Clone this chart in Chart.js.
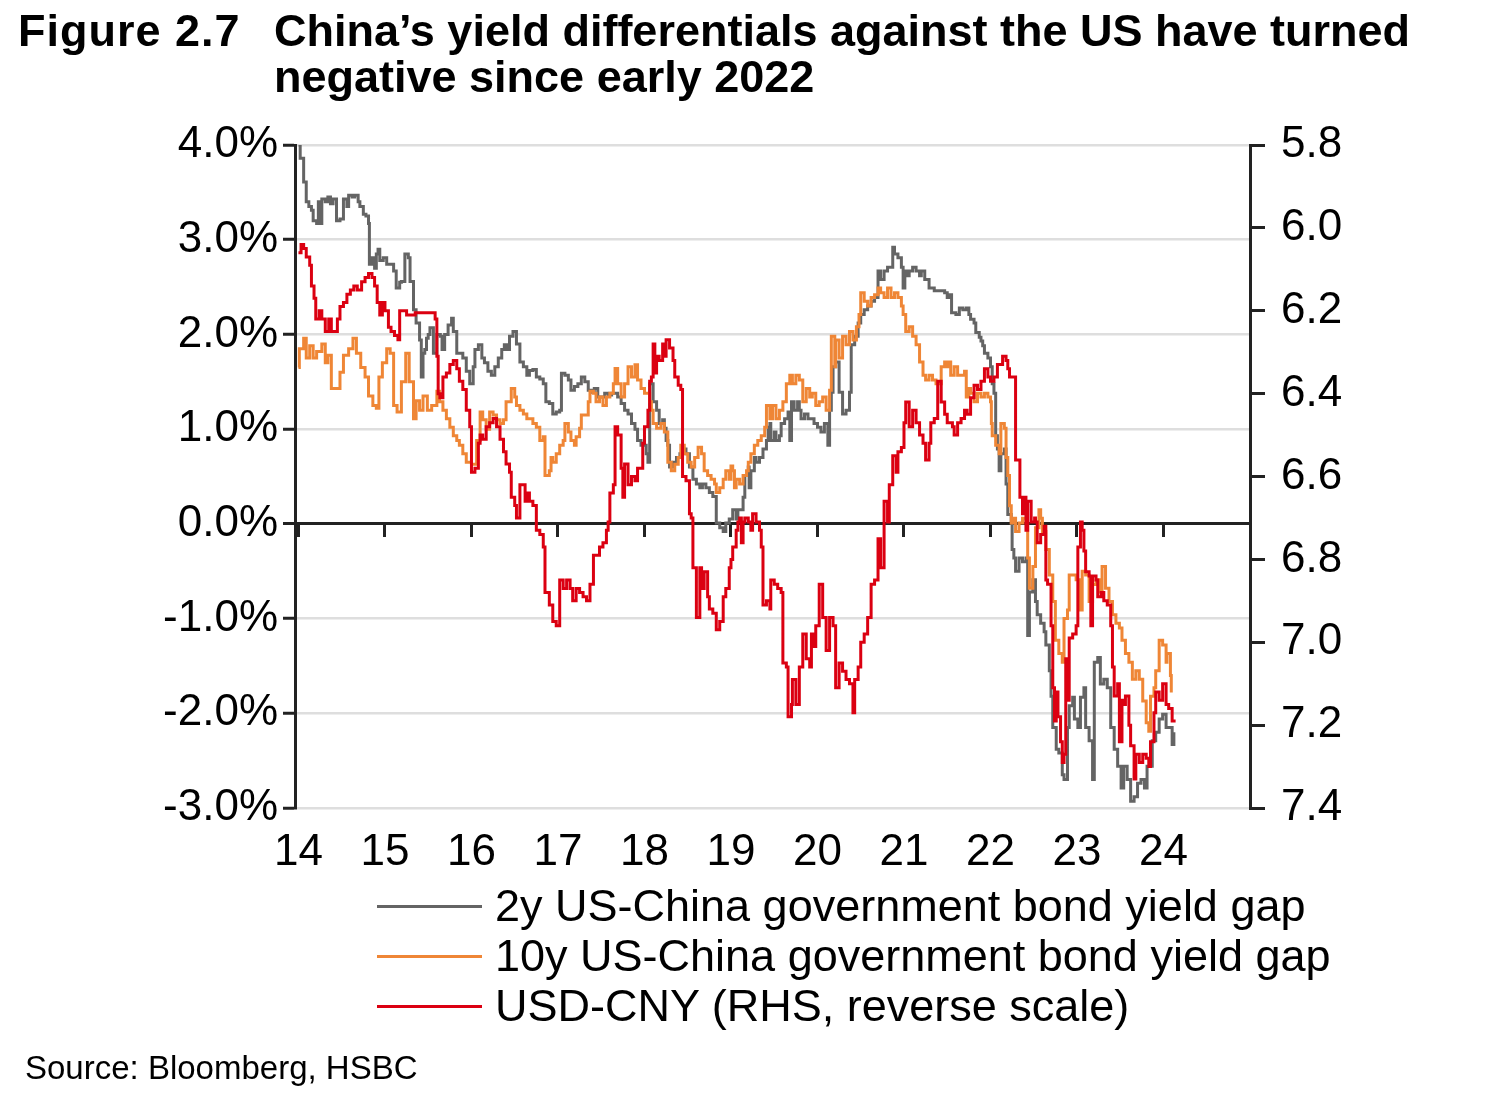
<!DOCTYPE html>
<html>
<head>
<meta charset="utf-8">
<script src="https://cdn.jsdelivr.net/npm/chart.js@4.4.1/dist/chart.umd.min.js"></script>
<style>
  html, body { margin: 0; padding: 0; background: #fff; }
  #wrap { position: relative; width: 1500px; height: 1104px; overflow: hidden; font-family: "Liberation Sans", Arial, Helvetica, sans-serif; color: #000; }
  #c { position: absolute; left: 0; top: 0; }
  .title { position: absolute; font-weight: bold; font-size: 45px; line-height: 46px; white-space: nowrap; }
  #legend { position: absolute; left: 377px; top: 881px; }
  .lrow { display: flex; align-items: center; height: 50px; }
  .lline { width: 105px; height: 3px; margin-right: 13px; }
  .ltext { font-size: 45px; line-height: 50px; white-space: nowrap; }
  #source { position: absolute; left: 25px; top: 1052px; font-size: 33px; line-height: 32px; white-space: nowrap; }
</style>
</head>
<body>
<div id="wrap">
  <canvas id="c" width="1500" height="1104"></canvas>
  <div class="title" style="left:18px; top:8px; letter-spacing:1px;">Figure 2.7</div>
  <div class="title" style="left:274px; top:8px;">China’s yield differentials against the US have turned<br>negative since early 2022</div>
  <div id="legend"></div>
  <div id="source">Source: Bloomberg, HSBC</div>
</div>
<script>
// ---------- DATA (year as decimal, value) ----------
const YEAR_TICKS = [2014, 2015, 2016, 2017, 2018, 2019, 2020, 2021, 2022, 2023, 2024];
const LEFT_TICKS = [-3, -2, -1, 0, 1, 2, 3, 4];
const RIGHT_TICKS = [5.8, 6.0, 6.2, 6.4, 6.6, 6.8, 7.0, 7.2, 7.4];
const SERIES_LABELS = [
  "2y US-China government bond yield gap",
  "10y US-China government bond yield gap",
  "USD-CNY (RHS, reverse scale)"
];
const SERIES_COLORS = ["#646464", "#EF8636", "#DB0011"];

// 2y US-China government bond yield gap (%)
const GAP_2Y = [
[2014.00,4.00],[2014.02,3.86],[2014.06,3.61],[2014.09,3.40],[2014.12,3.35],[2014.15,3.31],[2014.17,3.20],[2014.21,3.17],
[2014.23,3.40],[2014.25,3.17],[2014.27,3.43],[2014.31,3.40],[2014.34,3.45],[2014.37,3.38],[2014.40,3.43],[2014.44,3.20],
[2014.48,3.22],[2014.52,3.43],[2014.56,3.35],[2014.58,3.47],[2014.62,3.45],[2014.65,3.47],[2014.69,3.40],[2014.71,3.35],
[2014.75,3.27],[2014.78,3.25],[2014.81,3.17],[2014.82,2.74],[2014.85,2.81],[2014.88,2.70],[2014.90,2.85],[2014.92,2.90],
[2014.94,2.78],[2014.98,2.81],[2015.02,2.74],[2015.06,2.74],[2015.10,2.67],[2015.13,2.49],[2015.17,2.55],[2015.19,2.56],
[2015.23,2.85],[2015.27,2.81],[2015.29,2.56],[2015.33,2.26],[2015.36,2.12],[2015.40,1.94],[2015.42,1.55],[2015.44,1.80],
[2015.46,1.84],[2015.48,1.96],[2015.50,2.00],[2015.52,2.07],[2015.56,1.80],[2015.60,2.00],[2015.64,1.98],[2015.66,1.84],
[2015.69,2.00],[2015.73,2.10],[2015.77,2.17],[2015.79,2.03],[2015.83,1.80],[2015.87,1.80],[2015.90,1.75],[2015.94,1.61],
[2015.98,1.48],[2016.02,1.66],[2016.04,1.84],[2016.08,1.89],[2016.10,1.89],[2016.12,1.75],[2016.15,1.70],[2016.19,1.61],
[2016.23,1.57],[2016.27,1.66],[2016.31,1.75],[2016.35,1.84],[2016.38,1.89],[2016.41,1.84],[2016.44,1.98],[2016.48,2.03],
[2016.52,1.90],[2016.56,1.71],[2016.60,1.66],[2016.64,1.57],[2016.67,1.62],[2016.71,1.63],[2016.75,1.55],[2016.79,1.53],
[2016.83,1.48],[2016.86,1.29],[2016.90,1.27],[2016.94,1.16],[2016.98,1.18],[2017.02,1.20],[2017.04,1.59],[2017.08,1.57],
[2017.12,1.52],[2017.15,1.41],[2017.19,1.45],[2017.23,1.48],[2017.27,1.55],[2017.31,1.50],[2017.35,1.41],[2017.39,1.39],
[2017.42,1.43],[2017.46,1.34],[2017.50,1.34],[2017.54,1.38],[2017.58,1.36],[2017.62,1.38],[2017.66,1.38],[2017.69,1.34],
[2017.73,1.27],[2017.77,1.20],[2017.81,1.16],[2017.85,1.06],[2017.89,1.00],[2017.92,0.88],[2017.96,0.83],[2018.00,0.83],
[2018.02,0.74],[2018.04,0.65],[2018.06,1.48],[2018.10,1.29],[2018.14,1.20],[2018.17,1.06],[2018.21,1.10],[2018.23,1.01],
[2018.25,0.88],[2018.27,0.83],[2018.29,0.60],[2018.33,0.65],[2018.37,0.70],[2018.41,0.74],[2018.44,0.79],[2018.48,0.74],
[2018.52,0.60],[2018.56,0.47],[2018.60,0.42],[2018.64,0.38],[2018.67,0.42],[2018.71,0.38],[2018.75,0.33],[2018.79,0.29],
[2018.83,0.01],[2018.87,-0.04],[2018.91,-0.08],[2018.94,0.01],[2018.98,0.05],[2019.02,0.15],[2019.06,0.05],[2019.08,0.15],
[2019.12,0.15],[2019.14,0.28],[2019.16,0.51],[2019.20,0.60],[2019.21,0.38],[2019.23,0.56],[2019.27,0.70],[2019.29,0.65],
[2019.33,0.70],[2019.37,0.79],[2019.41,0.88],[2019.43,1.02],[2019.45,1.06],[2019.46,0.88],[2019.50,0.97],[2019.52,0.88],
[2019.56,0.93],[2019.58,1.06],[2019.62,1.11],[2019.66,1.18],[2019.68,0.88],[2019.70,1.29],[2019.73,1.20],[2019.77,1.29],
[2019.79,1.20],[2019.81,1.11],[2019.85,1.16],[2019.89,1.11],[2019.93,1.11],[2019.96,1.06],[2020.00,1.02],[2020.04,0.97],
[2020.08,1.06],[2020.12,0.83],[2020.14,1.20],[2020.16,1.39],[2020.18,1.66],[2020.21,1.71],[2020.25,1.39],[2020.29,1.16],
[2020.33,1.20],[2020.37,1.39],[2020.39,1.89],[2020.43,1.98],[2020.47,2.12],[2020.50,2.21],[2020.54,2.26],[2020.58,2.30],
[2020.62,2.35],[2020.66,2.39],[2020.70,2.67],[2020.73,2.58],[2020.77,2.67],[2020.81,2.71],[2020.85,2.71],[2020.87,2.92],
[2020.89,2.85],[2020.93,2.81],[2020.97,2.71],[2020.99,2.49],[2021.01,2.67],[2021.04,2.62],[2021.06,2.67],[2021.10,2.71],
[2021.14,2.67],[2021.18,2.62],[2021.20,2.67],[2021.24,2.58],[2021.29,2.49],[2021.35,2.46],[2021.41,2.46],[2021.47,2.44],
[2021.50,2.39],[2021.52,2.42],[2021.55,2.23],[2021.60,2.21],[2021.64,2.28],[2021.68,2.26],[2021.72,2.28],[2021.75,2.21],
[2021.77,2.16],[2021.81,2.12],[2021.83,2.02],[2021.87,1.97],[2021.89,1.93],[2021.91,1.88],[2021.93,1.80],[2021.97,1.75],
[2022.00,1.66],[2022.02,1.48],[2022.04,1.38],[2022.06,0.93],[2022.08,0.79],[2022.10,0.56],[2022.12,0.74],[2022.16,0.79],
[2022.18,0.42],[2022.20,0.10],[2022.24,0.01],[2022.25,-0.27],[2022.27,-0.36],[2022.29,-0.50],[2022.33,-0.36],[2022.37,-0.40],
[2022.41,-0.36],[2022.43,-1.18],[2022.45,-0.72],[2022.49,-0.59],[2022.52,-0.82],[2022.54,-0.96],[2022.58,-1.05],[2022.62,-1.14],
[2022.64,-1.28],[2022.68,-1.55],[2022.70,-1.82],[2022.72,-2.15],[2022.76,-2.38],[2022.79,-2.42],[2022.83,-2.65],[2022.85,-2.70],
[2022.89,-2.15],[2022.91,-1.92],[2022.95,-1.83],[2022.97,-2.06],[2023.01,-2.15],[2023.04,-1.83],[2023.08,-1.73],[2023.10,-2.15],
[2023.14,-2.29],[2023.18,-2.70],[2023.20,-1.46],[2023.24,-1.41],[2023.27,-1.69],[2023.31,-1.64],[2023.35,-1.73],[2023.39,-2.15],
[2023.43,-2.38],[2023.47,-2.56],[2023.51,-2.79],[2023.54,-2.56],[2023.58,-2.70],[2023.62,-2.93],[2023.66,-2.88],[2023.70,-2.74],
[2023.74,-2.70],[2023.78,-2.79],[2023.81,-2.56],[2023.85,-2.56],[2023.87,-2.29],[2023.91,-2.20],[2023.95,-2.06],[2023.99,-2.01],
[2024.03,-2.15],[2024.06,-2.15],[2024.10,-2.33],[2024.12,-2.20]
];

// 10y US-China government bond yield gap (%)
const GAP_10Y = [
[2014.00,1.65],[2014.01,1.85],[2014.06,1.96],[2014.09,1.75],[2014.13,1.88],[2014.17,1.75],[2014.21,1.82],[2014.27,1.90],
[2014.31,1.70],[2014.34,1.78],[2014.38,1.43],[2014.44,1.43],[2014.48,1.60],[2014.52,1.78],[2014.58,1.85],[2014.63,1.96],
[2014.67,1.80],[2014.72,1.65],[2014.77,1.55],[2014.81,1.35],[2014.86,1.25],[2014.90,1.22],[2014.93,1.55],[2014.97,1.70],
[2015.02,1.85],[2015.06,1.80],[2015.10,1.25],[2015.14,1.18],[2015.19,1.50],[2015.24,1.80],[2015.28,1.50],[2015.33,1.11],
[2015.36,1.30],[2015.40,1.20],[2015.44,1.35],[2015.49,1.20],[2015.54,1.25],[2015.60,1.40],[2015.63,1.29],[2015.67,1.20],
[2015.71,1.11],[2015.75,1.02],[2015.79,0.93],[2015.83,0.88],[2015.86,0.83],[2015.90,0.74],[2015.94,0.65],[2016.00,0.63],
[2016.06,0.88],[2016.10,1.18],[2016.13,1.10],[2016.17,1.00],[2016.21,1.18],[2016.25,1.15],[2016.29,1.10],[2016.33,1.06],
[2016.37,1.10],[2016.40,1.29],[2016.46,1.43],[2016.50,1.34],[2016.52,1.25],[2016.56,1.20],[2016.60,1.16],[2016.64,1.11],
[2016.67,1.11],[2016.71,1.06],[2016.75,1.02],[2016.79,0.88],[2016.83,0.92],[2016.85,0.51],[2016.90,0.56],[2016.92,0.70],
[2016.94,0.65],[2016.98,0.74],[2017.02,0.83],[2017.06,0.88],[2017.08,1.06],[2017.12,0.97],[2017.15,0.88],[2017.19,0.83],
[2017.21,0.92],[2017.25,1.01],[2017.27,1.15],[2017.31,1.15],[2017.35,1.29],[2017.37,1.40],[2017.41,1.38],[2017.44,1.29],
[2017.48,1.34],[2017.52,1.25],[2017.56,1.34],[2017.60,1.38],[2017.64,1.48],[2017.66,1.64],[2017.69,1.48],[2017.73,1.34],
[2017.77,1.48],[2017.81,1.66],[2017.85,1.55],[2017.89,1.68],[2017.92,1.52],[2017.96,1.43],[2018.00,1.38],[2018.04,1.38],
[2018.06,1.29],[2018.08,1.20],[2018.10,1.06],[2018.14,1.01],[2018.19,1.06],[2018.23,0.97],[2018.27,0.65],[2018.31,0.56],
[2018.35,0.63],[2018.39,0.70],[2018.42,0.83],[2018.46,0.74],[2018.50,0.65],[2018.54,0.60],[2018.58,0.70],[2018.62,0.81],
[2018.66,0.74],[2018.69,0.56],[2018.73,0.51],[2018.77,0.47],[2018.81,0.42],[2018.83,0.33],[2018.87,0.38],[2018.91,0.47],
[2018.94,0.56],[2018.98,0.47],[2019.00,0.61],[2019.02,0.56],[2019.04,0.38],[2019.06,0.47],[2019.10,0.42],[2019.14,0.51],
[2019.18,0.56],[2019.20,0.65],[2019.23,0.74],[2019.27,0.83],[2019.31,0.88],[2019.35,0.93],[2019.39,1.02],[2019.41,1.25],
[2019.45,1.11],[2019.48,1.25],[2019.52,1.11],[2019.56,1.20],[2019.60,1.29],[2019.64,1.48],[2019.68,1.57],[2019.71,1.48],
[2019.75,1.57],[2019.79,1.52],[2019.83,1.29],[2019.87,1.43],[2019.91,1.34],[2019.94,1.38],[2019.98,1.25],[2020.02,1.29],
[2020.06,1.34],[2020.10,1.20],[2020.14,1.41],[2020.16,1.98],[2020.20,1.66],[2020.21,1.94],[2020.25,1.75],[2020.29,1.98],
[2020.33,1.89],[2020.37,2.03],[2020.41,1.94],[2020.45,2.08],[2020.48,2.21],[2020.50,2.44],[2020.54,2.35],[2020.58,2.30],
[2020.62,2.39],[2020.66,2.42],[2020.70,2.49],[2020.73,2.44],[2020.77,2.39],[2020.81,2.49],[2020.85,2.39],[2020.89,2.44],
[2020.93,2.39],[2020.97,2.30],[2020.99,2.21],[2021.02,2.03],[2021.06,2.08],[2021.10,1.98],[2021.14,1.89],[2021.18,1.71],
[2021.22,1.57],[2021.25,1.52],[2021.29,1.57],[2021.33,1.52],[2021.37,1.48],[2021.43,1.66],[2021.47,1.71],[2021.50,1.66],
[2021.52,1.71],[2021.54,1.57],[2021.58,1.66],[2021.62,1.57],[2021.66,1.57],[2021.70,1.61],[2021.72,1.34],[2021.75,1.43],
[2021.77,1.38],[2021.81,1.29],[2021.85,1.38],[2021.89,1.34],[2021.93,1.38],[2021.97,1.34],[2022.00,1.29],[2022.01,1.06],
[2022.02,0.93],[2022.06,0.83],[2022.10,0.74],[2022.12,1.06],[2022.16,1.01],[2022.18,0.70],[2022.20,0.51],[2022.22,0.19],
[2022.24,0.01],[2022.27,0.06],[2022.29,-0.08],[2022.33,0.01],[2022.37,0.06],[2022.41,0.01],[2022.43,-0.36],[2022.45,-0.68],
[2022.49,-0.45],[2022.52,-0.04],[2022.56,0.15],[2022.58,0.06],[2022.60,-0.08],[2022.64,-0.27],[2022.68,-0.54],[2022.72,-0.82],
[2022.75,-1.23],[2022.79,-1.37],[2022.83,-1.46],[2022.85,-1.00],[2022.89,-0.91],[2022.91,-0.54],[2022.95,-0.54],[2022.99,-0.59],
[2023.03,-0.91],[2023.06,-0.50],[2023.10,-0.54],[2023.14,-0.82],[2023.18,-0.64],[2023.22,-0.59],[2023.26,-0.72],[2023.29,-0.45],
[2023.33,-0.68],[2023.37,-0.82],[2023.41,-0.96],[2023.45,-1.05],[2023.49,-1.10],[2023.52,-1.23],[2023.56,-1.37],[2023.60,-1.46],
[2023.64,-1.64],[2023.68,-1.55],[2023.72,-1.64],[2023.76,-1.87],[2023.80,-2.10],[2023.83,-2.19],[2023.85,-1.82],[2023.89,-1.73],
[2023.91,-1.55],[2023.95,-1.23],[2023.99,-1.28],[2024.03,-1.46],[2024.04,-1.37],[2024.08,-1.60],[2024.09,-1.78]
];

// USD-CNY (right axis, reversed)
const USD_CNY = [
[2014.00,6.06],[2014.03,6.04],[2014.06,6.05],[2014.09,6.07],[2014.13,6.09],[2014.15,6.14],[2014.18,6.17],[2014.20,6.22],
[2014.24,6.20],[2014.27,6.22],[2014.31,6.25],[2014.35,6.22],[2014.38,6.25],[2014.42,6.25],[2014.45,6.22],[2014.48,6.19],
[2014.52,6.18],[2014.56,6.16],[2014.60,6.15],[2014.64,6.14],[2014.68,6.15],[2014.73,6.13],[2014.77,6.12],[2014.81,6.11],
[2014.85,6.12],[2014.88,6.14],[2014.91,6.18],[2014.94,6.21],[2014.97,6.18],[2015.00,6.20],[2015.04,6.24],[2015.07,6.25],
[2015.11,6.26],[2015.15,6.27],[2015.17,6.20],[2015.25,6.21],[2015.35,6.205],[2015.45,6.205],[2015.55,6.205],[2015.58,6.22],
[2015.60,6.31],[2015.615,6.40],[2015.635,6.41],[2015.67,6.36],[2015.71,6.35],[2015.75,6.33],[2015.79,6.32],[2015.83,6.34],
[2015.86,6.37],[2015.90,6.39],[2015.94,6.44],[2015.98,6.48],[2016.00,6.59],[2016.04,6.58],[2016.08,6.52],[2016.10,6.50],
[2016.13,6.51],[2016.17,6.48],[2016.21,6.47],[2016.25,6.46],[2016.29,6.48],[2016.33,6.51],[2016.37,6.54],[2016.40,6.57],
[2016.44,6.59],[2016.46,6.65],[2016.50,6.67],[2016.52,6.70],[2016.56,6.62],[2016.60,6.62],[2016.62,6.66],[2016.64,6.64],
[2016.67,6.66],[2016.71,6.67],[2016.75,6.73],[2016.79,6.74],[2016.83,6.77],[2016.85,6.88],[2016.88,6.88],[2016.90,6.91],
[2016.94,6.95],[2016.98,6.96],[2017.02,6.85],[2017.06,6.87],[2017.10,6.85],[2017.14,6.87],[2017.17,6.90],[2017.21,6.87],
[2017.25,6.88],[2017.29,6.89],[2017.33,6.90],[2017.37,6.86],[2017.41,6.79],[2017.44,6.79],[2017.48,6.77],[2017.52,6.76],
[2017.56,6.73],[2017.58,6.71],[2017.60,6.64],[2017.64,6.62],[2017.66,6.48],[2017.69,6.50],[2017.73,6.58],[2017.75,6.65],
[2017.77,6.57],[2017.81,6.62],[2017.85,6.60],[2017.89,6.61],[2017.92,6.58],[2017.96,6.58],[2017.98,6.52],[2018.00,6.48],
[2018.04,6.44],[2018.06,6.37],[2018.08,6.36],[2018.10,6.28],[2018.12,6.35],[2018.14,6.31],[2018.17,6.32],[2018.21,6.28],
[2018.23,6.31],[2018.25,6.27],[2018.29,6.29],[2018.33,6.32],[2018.35,6.36],[2018.39,6.38],[2018.42,6.39],[2018.44,6.60],
[2018.48,6.61],[2018.52,6.69],[2018.54,6.70],[2018.56,6.82],[2018.60,6.94],[2018.64,6.82],[2018.66,6.87],[2018.69,6.83],
[2018.73,6.89],[2018.75,6.92],[2018.79,6.93],[2018.83,6.97],[2018.87,6.95],[2018.91,6.89],[2018.94,6.87],[2018.98,6.82],
[2019.00,6.80],[2019.02,6.77],[2019.06,6.73],[2019.08,6.71],[2019.10,6.70],[2019.12,6.76],[2019.14,6.71],[2019.16,6.70],
[2019.20,6.71],[2019.23,6.73],[2019.25,6.69],[2019.29,6.71],[2019.33,6.73],[2019.35,6.77],[2019.37,6.91],[2019.41,6.90],
[2019.45,6.92],[2019.46,6.85],[2019.50,6.86],[2019.54,6.87],[2019.58,6.88],[2019.60,7.05],[2019.64,7.06],[2019.66,7.18],
[2019.70,7.15],[2019.71,7.09],[2019.75,7.15],[2019.79,7.06],[2019.83,6.98],[2019.87,7.04],[2019.91,7.06],[2019.93,6.98],
[2019.96,7.01],[2019.98,6.96],[2020.02,6.86],[2020.06,6.94],[2020.10,7.02],[2020.14,6.94],[2020.18,6.96],[2020.21,7.11],
[2020.25,7.05],[2020.29,7.07],[2020.33,7.09],[2020.37,7.10],[2020.41,7.17],[2020.43,7.09],[2020.47,7.06],[2020.50,7.00],
[2020.54,6.98],[2020.58,6.94],[2020.62,6.86],[2020.66,6.85],[2020.70,6.75],[2020.73,6.82],[2020.77,6.66],[2020.81,6.71],
[2020.83,6.62],[2020.87,6.55],[2020.91,6.59],[2020.93,6.54],[2020.97,6.53],[2021.00,6.47],[2021.02,6.42],[2021.06,6.48],
[2021.10,6.44],[2021.14,6.47],[2021.18,6.50],[2021.22,6.52],[2021.25,6.56],[2021.29,6.52],[2021.31,6.47],[2021.35,6.46],
[2021.39,6.37],[2021.43,6.42],[2021.47,6.45],[2021.50,6.47],[2021.52,6.47],[2021.56,6.48],[2021.58,6.50],[2021.62,6.47],
[2021.66,6.46],[2021.70,6.44],[2021.73,6.45],[2021.77,6.41],[2021.81,6.38],[2021.85,6.39],[2021.89,6.37],[2021.93,6.34],
[2021.97,6.36],[2022.00,6.37],[2022.04,6.36],[2022.08,6.33],[2022.12,6.33],[2022.14,6.31],[2022.18,6.32],[2022.20,6.34],
[2022.22,6.36],[2022.27,6.36],[2022.29,6.56],[2022.33,6.56],[2022.34,6.65],[2022.37,6.69],[2022.39,6.65],[2022.41,6.73],
[2022.43,6.66],[2022.47,6.71],[2022.51,6.70],[2022.52,6.71],[2022.54,6.76],[2022.58,6.74],[2022.62,6.72],[2022.64,6.85],
[2022.66,6.86],[2022.70,6.96],[2022.72,7.11],[2022.74,7.19],[2022.76,7.12],[2022.78,7.18],[2022.81,7.24],[2022.83,7.29],
[2022.85,7.27],[2022.87,7.04],[2022.89,7.14],[2022.91,6.99],[2022.95,6.98],[2022.99,6.96],[2023.01,6.77],[2023.03,6.77],
[2023.04,6.71],[2023.06,6.73],[2023.08,6.78],[2023.10,6.83],[2023.14,6.84],[2023.16,6.96],[2023.18,6.84],[2023.22,6.85],
[2023.24,6.89],[2023.28,6.88],[2023.31,6.90],[2023.35,6.91],[2023.39,6.96],[2023.41,7.06],[2023.43,7.13],[2023.47,7.10],
[2023.49,7.24],[2023.52,7.14],[2023.54,7.15],[2023.56,7.13],[2023.60,7.20],[2023.62,7.25],[2023.66,7.33],[2023.68,7.27],
[2023.72,7.29],[2023.76,7.27],[2023.80,7.28],[2023.83,7.30],[2023.85,7.24],[2023.89,7.17],[2023.91,7.12],[2023.95,7.14],
[2023.99,7.10],[2024.03,7.15],[2024.06,7.16],[2024.10,7.19],[2024.14,7.19]
];

// ---------- CHART ----------
const FONT = '"Liberation Sans", Arial, Helvetica, sans-serif';
const AXIS = '#222';
const GRID = '#dedede';

const setTicks = list => scale => { scale.ticks = list.map(v => ({ value: v })); };

const ctx = document.getElementById('c').getContext('2d');
new Chart(ctx, {
  type: 'line',
  data: {
    datasets: [
      { label: SERIES_LABELS[0], data: GAP_2Y, borderColor: SERIES_COLORS[0], yAxisID: 'y', order: 3 },
      { label: SERIES_LABELS[1], data: GAP_10Y, borderColor: SERIES_COLORS[1], yAxisID: 'y', order: 2 },
      { label: SERIES_LABELS[2], data: USD_CNY, borderColor: SERIES_COLORS[2], yAxisID: 'y2', order: 1 }
    ].map(d => Object.assign(d, { borderWidth: 3, pointRadius: 0, stepped: true, fill: false, tension: 0 }))
  },
  options: {
    responsive: false,
    animation: false,
    devicePixelRatio: 1,
    layout: { padding: { top: 145, left: 0, right: 0, bottom: 226 } },
    plugins: { legend: { display: false }, tooltip: { enabled: false } },
    scales: {
      x: {
        type: 'linear', position: 'bottom', min: 2013.96, max: 2025,
        afterBuildTicks: setTicks(YEAR_TICKS),
        afterFit: s => { s.height = 70; },
        ticks: { autoSkip: false, maxRotation: 0, padding: 18, color: '#000',
                 font: { family: FONT, size: 44 }, callback: v => String(Math.round(v) % 100) },
        grid: { display: false, drawTicks: false },
        border: { display: false }
      },
      xz: {
        type: 'linear', position: { y: 0 }, min: 2013.96, max: 2025,
        afterBuildTicks: setTicks(YEAR_TICKS),
        ticks: { display: false },
        grid: { drawOnChartArea: false, drawTicks: true, tickLength: 13, tickColor: AXIS, lineWidth: 3, tickWidth: 3 },
        border: { display: false }
      },
      y: {
        type: 'linear', position: 'left', min: -3, max: 4,
        afterBuildTicks: setTicks(LEFT_TICKS),
        afterFit: s => { s.width = 295; },
        ticks: { padding: 5, color: '#000', font: { family: FONT, size: 44 }, callback: v => v.toFixed(1) + '%' },
        grid: {
          color: c => (c.tick && c.tick.value === 0) ? AXIS : GRID,
          lineWidth: c => (c.tick && c.tick.value === 0) ? 3 : 2.5,
          tickColor: AXIS, tickLength: 12, tickWidth: 3
        },
        border: { display: true, color: AXIS, width: 3 }
      },
      y2: {
        type: 'linear', position: 'right', min: 5.8, max: 7.4, reverse: true,
        afterBuildTicks: setTicks(RIGHT_TICKS),
        afterFit: s => { s.width = 250; },
        ticks: { padding: 16, color: '#000', font: { family: FONT, size: 44 }, callback: v => v.toFixed(1) },
        grid: { drawOnChartArea: false, drawTicks: true, tickLength: 15, tickColor: AXIS, lineWidth: 3, tickWidth: 3 },
        border: { display: true, color: AXIS, width: 3 }
      }
    }
  }
});

// ---------- LEGEND (HTML, from the series arrays) ----------
const legend = document.getElementById('legend');
SERIES_LABELS.forEach((lab, i) => {
  const row = document.createElement('div'); row.className = 'lrow';
  const ln = document.createElement('div'); ln.className = 'lline'; ln.style.background = SERIES_COLORS[i];
  const tx = document.createElement('div'); tx.className = 'ltext'; tx.textContent = lab;
  row.appendChild(ln); row.appendChild(tx); legend.appendChild(row);
});
</script>
</body>
</html>
